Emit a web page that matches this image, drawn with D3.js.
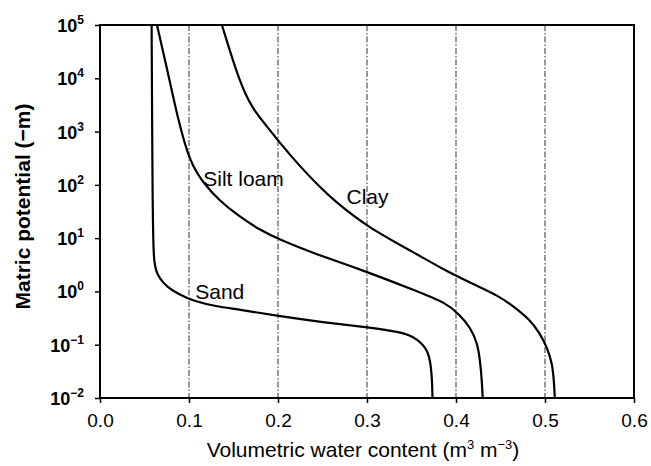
<!DOCTYPE html>
<html>
<head>
<meta charset="utf-8">
<script src="https://cdn.jsdelivr.net/npm/d3@7"></script>
<style>
  html, body { margin: 0; padding: 0; background: #fff; }
  svg { display: block; font-family: "Liberation Sans", Arial, Helvetica, sans-serif; }
</style>
</head>
<body>
<svg id="chart" width="651" height="466"></svg>
<script>
// ---- data (theta = volumetric water content, logPsi = log10 of matric potential (-m)) ----
const sandTheta  = [0.058, 0.059, 0.060, 0.061, 0.063, 0.067, 0.075, 0.088, 0.105, 0.130, 0.157, 0.199, 0.251, 0.300, 0.337, 0.352, 0.362, 0.368, 0.371, 0.373, 0.3736];
const sandLogPsi = [5.00, 1.72, 0.80, 0.55, 0.38, 0.24, 0.09, -0.05, -0.18, -0.28, -0.34, -0.46, -0.58, -0.67, -0.76, -0.85, -0.98, -1.12, -1.30, -1.60, -2.00];

const siltTheta  = [0.064, 0.075, 0.087, 0.101, 0.117, 0.133, 0.157, 0.180, 0.202, 0.239, 0.300, 0.352, 0.390, 0.404, 0.416, 0.424, 0.427, 0.429, 0.430];
const siltLogPsi = [5.00, 4.21, 3.27, 2.41, 2.02, 1.72, 1.40, 1.15, 0.97, 0.72, 0.37, 0.03, -0.22, -0.44, -0.67, -0.97, -1.29, -1.66, -2.00];

const clayTheta  = [0.137, 0.157, 0.172, 0.188, 0.202, 0.225, 0.247, 0.262, 0.300, 0.352, 0.390, 0.427, 0.446, 0.464, 0.483, 0.494, 0.502, 0.508, 0.510, 0.511];
const clayLogPsi = [5.00, 3.91, 3.41, 3.09, 2.79, 2.34, 1.96, 1.72, 1.21, 0.74, 0.37, 0.08, -0.07, -0.27, -0.53, -0.78, -1.04, -1.34, -1.66, -2.00];

const xTicks = [0.0, 0.1, 0.2, 0.3, 0.4, 0.5, 0.6];
const xTickLabels = ["0.0", "0.1", "0.2", "0.3", "0.4", "0.5", "0.6"];
const yExponents = [5, 4, 3, 2, 1, 0, -1, -2];
const gridX = [0.1, 0.2, 0.3, 0.4, 0.5];

const curveNames = ["Sand", "Silt loam", "Clay"];
const labelTheta  = [0.107, 0.116, 0.277];
const labelLogPsi = [-0.14, 1.98, 1.64];

// ---- layout ----
const W = 651, H = 466;
const margin = { left: 100, right: 17, top: 25, bottom: 68 };
const svg = d3.select("#chart");

const x = d3.scaleLinear().domain([0, 0.6]).range([margin.left, W - margin.right]);
const y = d3.scaleLog().domain([1e-2, 1e5]).range([H - margin.bottom, margin.top]);

// grid lines
svg.append("g").selectAll("line").data(gridX).join("line")
  .attr("x1", d => x(d)).attr("x2", d => x(d))
  .attr("y1", y(1e5)).attr("y2", y(1e-2))
  .attr("stroke", "#444").attr("stroke-width", 1.1)
  .attr("stroke-dasharray", "6,2,1.5,2");

// curves
const series = [
  { t: sandTheta, p: sandLogPsi },
  { t: siltTheta, p: siltLogPsi },
  { t: clayTheta, p: clayLogPsi }
];
const line = d3.line()
  .x(d => x(d[0]))
  .y(d => y(Math.pow(10, d[1])))
  .curve(d3.curveBasis);
series.forEach(s => {
  const pts = s.t.map((t, i) => [t, s.p[i]]);
  svg.append("path").datum(pts)
    .attr("d", line)
    .attr("fill", "none").attr("stroke", "#000").attr("stroke-width", 2.2)
    .attr("stroke-linejoin", "round");
});

// frame
svg.append("rect")
  .attr("x", x(0)).attr("y", y(1e5))
  .attr("width", x(0.6) - x(0)).attr("height", y(1e-2) - y(1e5))
  .attr("fill", "none").attr("stroke", "#000").attr("stroke-width", 2);

// x axis
const xAxis = svg.append("g")
  .attr("transform", `translate(0,${y(1e-2)})`)
  .call(d3.axisBottom(x).tickValues(xTicks).tickSize(5).tickSizeOuter(0)
    .tickFormat((d, i) => xTickLabels[i]));
xAxis.select(".domain").remove();
xAxis.selectAll(".tick line").attr("stroke", "#000").attr("stroke-width", 1.5);
xAxis.selectAll(".tick text")
  .attr("font-size", 19).attr("fill", "#000").attr("dy", null).attr("y", 29)
  .attr("font-family", "'Liberation Sans', Arial, sans-serif");

// y axis
const yAxis = svg.append("g")
  .attr("transform", `translate(${x(0)},0)`)
  .call(d3.axisLeft(y).tickValues(yExponents.map(e => Math.pow(10, e))).tickSize(5).tickSizeOuter(0)
    .tickFormat(""));
yAxis.select(".domain").remove();
yAxis.selectAll(".tick line").attr("stroke", "#000").attr("stroke-width", 1.5);

const yl = svg.append("g").selectAll("text").data(yExponents).join("text")
  .attr("x", x(0) - 16)
  .attr("y", d => y(Math.pow(10, d)) + 7)
  .attr("text-anchor", "end")
  .attr("font-size", 18).attr("font-weight", "bold").attr("fill", "#000");
yl.append("tspan").text("10");
yl.append("tspan").attr("dy", -8).attr("font-size", 12)
  .text(d => (d < 0 ? "\u2212" + Math.abs(d) : String(d)));

// axis titles
const xt = svg.append("text")
  .attr("x", (x(0) + x(0.6)) / 2 - 4).attr("y", 457)
  .attr("text-anchor", "middle").attr("font-size", 21).attr("fill", "#000");
xt.append("tspan").text("Volumetric water content (m");
xt.append("tspan").attr("dy", -8).attr("font-size", 13).text("3");
xt.append("tspan").attr("dy", 8).text(" m");
xt.append("tspan").attr("dy", -8).attr("font-size", 13).text("\u22123");
xt.append("tspan").attr("dy", 8).text(")");

svg.append("text")
  .attr("transform", `translate(30,${(y(1e5) + y(1e-2)) / 2 - 5}) rotate(-90)`)
  .attr("text-anchor", "middle").attr("font-size", 21).attr("font-weight", "bold")
  .attr("fill", "#000")
  .text("Matric potential (\u2212m)");

// curve labels
svg.append("g").selectAll("text").data(curveNames).join("text")
  .attr("x", (d, i) => x(labelTheta[i]))
  .attr("y", (d, i) => y(Math.pow(10, labelLogPsi[i])))
  .attr("font-size", 21).attr("fill", "#000")
  .text(d => d);
</script>
</body>
</html>
